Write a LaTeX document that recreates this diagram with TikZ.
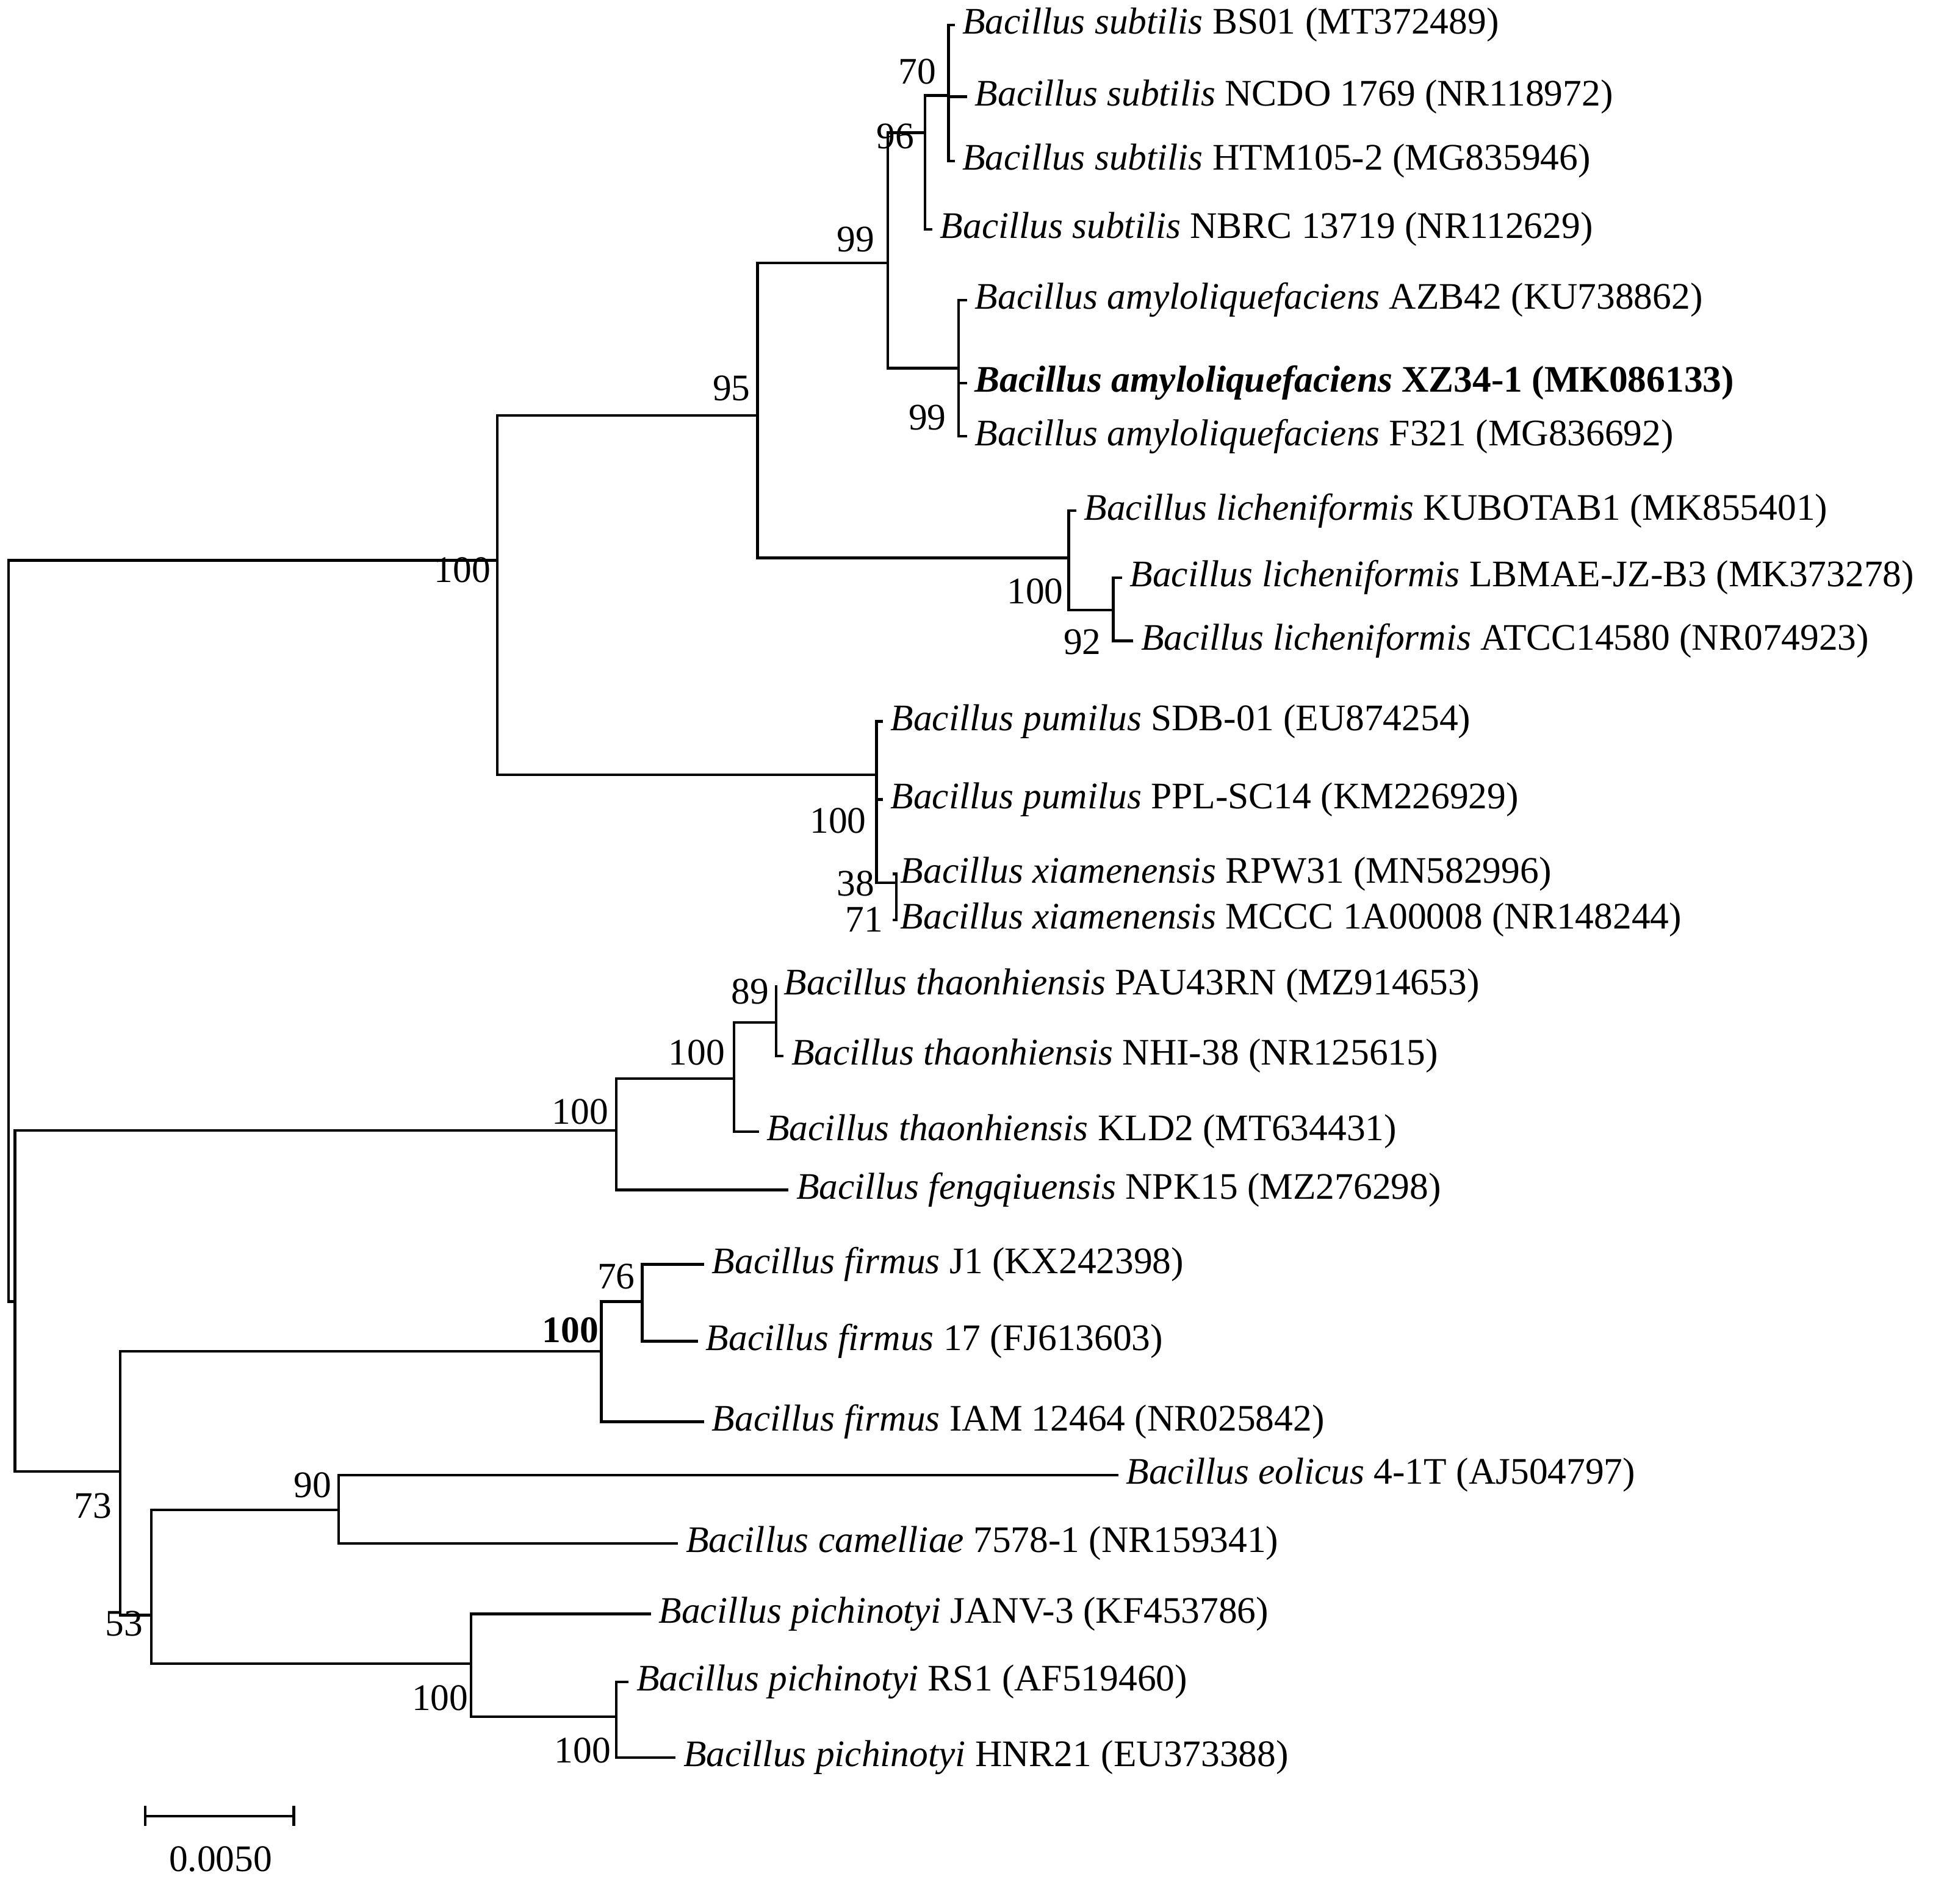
\documentclass[tikz,border=0pt]{standalone}
\usepackage{fontspec}
\setmainfont{Liberation Serif}
\begin{document}
\begin{tikzpicture}[x=0.01cm,y=-0.01cm,line width=0.6pt,
  lf/.style={anchor=west,inner sep=1.5pt,font=\fontsize{8.6}{10}\selectfont},
  bs/.style={font=\fontsize{8.6}{10}\selectfont,inner sep=0pt}]
\useasboundingbox (0,0) rectangle (1568,1536);
\newcommand{\leaf}[5]{\node[lf] (#1) at (#2,#3) {#4};}
% internal nodes
\coordinate (root) at (7,740);
\coordinate (r2) at (12,1050);
\coordinate (A) at (401,452);
\coordinate (B) at (611,335);
\coordinate (C) at (716,212);
\coordinate (D) at (746,107);
\coordinate (E) at (765,77);
\coordinate (F) at (773,297);
\coordinate (G) at (862,450);
\coordinate (H) at (898,492);
\coordinate (I) at (707,625);
\coordinate (J) at (723,712);
\coordinate (K) at (497,912);
\coordinate (L) at (592,870);
\coordinate (M) at (626,825);
\coordinate (N) at (97,1187);
\coordinate (O) at (485,1090);
\coordinate (P) at (518,1050);
\coordinate (Q) at (122,1303);
\coordinate (T) at (273,1218);
\coordinate (R) at (380,1342);
\coordinate (S) at (497,1385);
% leaves
\leaf{l1}{770}{20}{\textit{Bacillus subtilis} BS01 (MT372489)}{}
\leaf{l2}{780}{78}{\textit{Bacillus subtilis} NCDO 1769 (NR118972)}{}
\leaf{l3}{770}{130}{\textit{Bacillus subtilis} HTM105-2 (MG835946)}{}
\leaf{l4}{752}{185}{\textit{Bacillus subtilis} NBRC 13719 (NR112629)}{}
\leaf{l5}{780}{242}{\textit{Bacillus amyloliquefaciens} AZB42 (KU738862)}{}
\leaf{l6}{780}{309}{\textbf{\textit{Bacillus amyloliquefaciens} XZ34-1 (MK086133)}}{}
\leaf{l7}{780}{352}{\textit{Bacillus amyloliquefaciens} F321 (MG836692)}{}
\leaf{l8}{868}{412}{\textit{Bacillus licheniformis} KUBOTAB1 (MK855401)}{}
\leaf{l9}{905}{466}{\textit{Bacillus licheniformis} LBMAE-JZ-B3 (MK373278)}{}
\leaf{l10}{914}{517}{\textit{Bacillus licheniformis} ATCC14580 (NR074923)}{}
\leaf{l11}{712}{582}{\textit{Bacillus pumilus} SDB-01 (EU874254)}{}
\leaf{l12}{712}{645}{\textit{Bacillus pumilus} PPL-SC14 (KM226929)}{}
\leaf{l13}{720}{705}{\textit{Bacillus xiamenensis}\ RPW31\ (MN582996)}{}
\leaf{l14}{720}{742}{\textit{Bacillus xiamenensis} MCCC 1A00008 (NR148244)}{}
\leaf{l15}{626}{795}{\textit{Bacillus thaonhiensis} PAU43RN (MZ914653)}{}
\leaf{l16}{632}{852}{\textit{Bacillus thaonhiensis} NHI-38 (NR125615)}{}
\leaf{l17}{612}{913}{\textit{Bacillus thaonhiensis} KLD2 (MT634431)}{}
\leaf{l18}{636}{960}{\textit{Bacillus fengqiuensis} NPK15 (MZ276298)}{}
\leaf{l19}{568}{1020}{\textit{Bacillus firmus}\ J1\ (KX242398)}{}
\leaf{l20}{563}{1082}{\textit{Bacillus firmus}\ 17\ (FJ613603)}{}
\leaf{l21}{568}{1147}{\textit{Bacillus firmus} IAM 12464 (NR025842)}{}
\leaf{l22}{902}{1190}{\textit{Bacillus eolicus}\ 4-1T (AJ504797)}{}
\leaf{l23}{547}{1245}{\textit{Bacillus camelliae}\ 7578-1 (NR159341)}{}
\leaf{l24}{525}{1302}{\textit{Bacillus pichinotyi} JANV-3 (KF453786)}{}
\leaf{l25}{507}{1357}{\textit{Bacillus pichinotyi}\ RS1 (AF519460)}{}
\leaf{l26}{545}{1418}{\textit{Bacillus pichinotyi}\ HNR21 (EU373388)}{}
% edges
\draw (root) |- (A); \draw (root) |- (r2); \draw (r2) |- (K); \draw (r2) |- (N);
\draw (A) |- (B); \draw (A) |- (I);
\draw (B) |- (C); \draw (B) |- (G);
\draw (C) |- (D); \draw (C) |- (F);
\draw (D) |- (E); \draw (D) |- (l4.west);
\draw (E) |- (l1.west); \draw (E) |- (l2.west); \draw (E) |- (l3.west);
\draw (F) |- (l5.west); \draw (F) |- (l6.west); \draw (F) |- (l7.west);
\draw (G) |- (l8.west); \draw (G) |- (H);
\draw (H) |- (l9.west); \draw (H) |- (l10.west);
\draw (I) |- (l11.west); \draw (I) |- (l12.west); \draw (I) |- (J);
\draw (J) |- (l13.west); \draw (J) |- (l14.west);
\draw (K) |- (L); \draw (K) |- (l18.west);
\draw (L) |- (M); \draw (L) |- (l17.west);
\draw (M) |- (l15.west); \draw (M) |- (l16.west);
\draw (N) |- (O); \draw (N) |- (Q);
\draw (O) |- (P); \draw (O) |- (l21.west);
\draw (P) |- (l19.west); \draw (P) |- (l20.west);
\draw (Q) |- (T); \draw (Q) |- (R);
\draw (T) |- (l22.west); \draw (T) |- (l23.west);
\draw (R) |- (l24.west); \draw (R) |- (S);
\draw (S) |- (l25.west); \draw (S) |- (l26.west);
% bootstrap labels
\foreach \t/\x/\y in {70/740/58,96/722/110,99/690/193,95/590/313,99/748/337,100/373/460,100/835/477,92/873/518,100/676/662,38/690/713,71/697/742,89/605/800,100/562/849,100/468/897,76/497/1030,90/252/1198,73/75/1215,53/100/1310,100/355/1370,100/470/1412}
  \node[bs] at (\x,\y) {\t};
\node[bs] at (460,1073) {\textbf{100}};
% scale bar
\coordinate (s1) at (117,1465); \coordinate (s2) at (237,1465);
\draw (s1) -- (s2);
\draw ([yshift=-0.08cm]s1) -- ([yshift=0.08cm]s1);
\draw ([yshift=-0.08cm]s2) -- ([yshift=0.08cm]s2);
\node[bs] (sl) at (178,1500) {0.0050};
\end{tikzpicture}
\end{document}
